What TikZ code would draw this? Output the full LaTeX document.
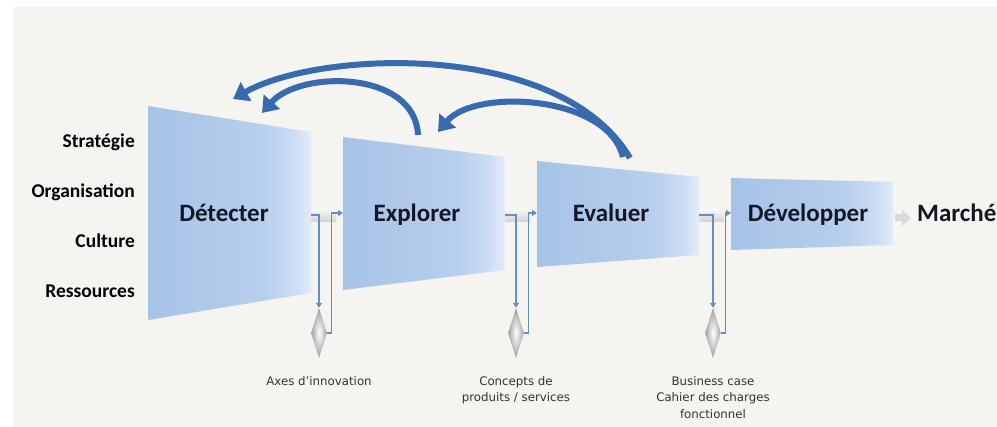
\documentclass[tikz,border=0pt]{standalone}
\usepackage{fontspec}
\setmainfont{Carlito}
\newfontfamily\notefont{DejaVu Sans}
\usetikzlibrary{positioning, arrows.meta, shapes.geometric}
\definecolor{bgcol}{RGB}{245,244,240}
\definecolor{panelL}{RGB}{166,195,231}
\definecolor{panelM}{RGB}{184,206,237}
\definecolor{panelN}{RGB}{203,221,244}
\definecolor{panelR}{RGB}{226,236,249}
\definecolor{flowblue}{RGB}{95,145,205}
\definecolor{backblue}{RGB}{56,106,176}
\definecolor{phasetext}{RGB}{20,22,35}
\pgfdeclarehorizontalshading{panelshade}{100bp}{
    color(0bp)=(panelL); color(25bp)=(panelL); color(60bp)=(panelM);
    color(70bp)=(panelN); color(75bp)=(panelR); color(100bp)=(panelR)}
\tikzset{
    panel/.style={
           shading=panelshade,
           },
    phase/.style={
           font=\bfseries\fontsize{25}{29}\selectfont,
           text=phasetext,
           inner sep=0pt,
           anchor=base,
           },
    axis label/.style={
           font=\bfseries\fontsize{19.5}{23}\selectfont,
           anchor=base east,
           inner sep=0pt,
           },
    gate/.style={
           diamond,
           minimum width=16pt, minimum height=50pt,
           inner sep=0pt,
           inner color=white, outer color=gray!75,
           },
    tube/.style={top color=gray!8, bottom color=gray!35},
    flow/.style={draw=flowblue, line width=1.2pt, -{Triangle[length=5pt,width=6pt]}},
    loop back/.style={draw=backblue, line width=6pt, -{Triangle[length=15pt,width=21pt]}},
    out label/.style={
           font=\notefont\fontsize{11.8}{16.5}\selectfont,
           text=black!80,
           align=center,
           inner sep=0pt,
           },
    exit/.style={draw=gray!30, line width=7pt, -{Triangle[length=9pt,width=15pt]}, shorten >=6pt},
}

\begin{document}
\begin{tikzpicture}[x=1pt, y=1pt, node distance=20pt]
  \useasboundingbox (0,0) rectangle (997,-427);
  \fill[white] (0,0) rectangle (997,-427);
  \fill[bgcol] (13,-7) rectangle (997,-427);

% funnel panels
  \shade[panel] (148,-106) -- (311,-132) -- (311,-293) -- (148,-320) -- cycle;
  \shade[panel] (343,-137) -- (505,-157) -- (505,-270) -- (343,-290) -- cycle;
  \shade[panel] (537,-161) -- (699,-177) -- (699,-255) -- (537,-267) -- cycle;
  \shade[panel] (731,-178) -- (893,-182) -- (893,-245) -- (731,-250) -- cycle;

  \node[phase]                  (Detect)  at (224,-222) {Détecter};
  \node[phase]                  (Explore) at (417,-222) {Explorer};
  \node[phase]                  (Evaluate) at (611,-222) {Evaluer};
  \node[phase]                  (Develop) at (808,-222) {Développer};
  \node[phase, anchor=base west] (Market) at (917,-222) {Marché};

% dimensions
  \node[axis label] (Strategy)  at (135,-148) {Stratégie};
  \node[axis label] (Organize)  at (135,-198) {Organisation};
  \node[axis label] (Culture)   at (135,-248) {Culture};
  \node[axis label] (Resources) at (135,-298) {Ressources};

% tubes between phases
  \shade[tube] (311,-210) rectangle (336,-222);
  \shade[tube] (505,-210) rectangle (530,-222);
  \shade[tube] (699,-210) rectangle (724,-222);

  \coordinate (DetectOut)  at (311,-215);
  \coordinate (ExploreIn)  at (343,-213);
  \coordinate (ExploreOut) at (505,-215);
  \coordinate (EvaluateIn) at (537,-213);
  \coordinate (EvaluateOut) at (699,-215);
  \coordinate (DevelopIn)  at (731,-213);
  \coordinate (DevelopOut) at (895,-218);

% gates
  \node[gate] (GateA) at (319,-333) {};
  \node[gate] (GateB) at (516,-333) {};
  \node[gate] (GateC) at (713,-333) {};

  \draw[flow] (DetectOut) -| (GateA.north);
  \draw[flow] (GateA.east) -- ++(4,0) |- (ExploreIn);
  \draw[flow] (ExploreOut) -| (GateB.north);
  \draw[flow] (GateB.east) -- ++(4,0) |- (EvaluateIn);
  \draw[flow] (EvaluateOut) -| (GateC.north);
  \draw[flow] (GateC.east) -- ++(4,0) |- (DevelopIn);

  \node[out label, below=18pt of GateA] (Axes)     {Axes d’innovation};
  \node[out label, below=18pt of GateB] (Concepts) {Concepts de\\produits / services};
  \node[out label, below=18pt of GateC] (Business) {Business case\\Cahier des charges\\fonctionnel};

% to market
  \draw[exit] (DevelopOut) -- (DevelopOut -| Market.west);

% loops back
  \coordinate (EvaluateTop)  at (630,-158);
  \coordinate (EvaluateTop2) at (623,-157);
  \coordinate (ExploreTop)   at (418,-135);
  \coordinate (DetectTop)    at (233,-99);
  \coordinate (DetectTop2)   at (262,-113);
  \coordinate (ExploreTop2)  at (438,-132);

  \draw[loop back] (EvaluateTop)  .. controls (560,-40) and (320,-50) .. (DetectTop);
  \draw[loop back] (ExploreTop)   .. controls (415,-70) and (300,-70) .. (DetectTop2);
  \draw[loop back] (EvaluateTop2) .. controls (608,-95) and (475,-88) .. (ExploreTop2);

\end{tikzpicture}
\end{document}
